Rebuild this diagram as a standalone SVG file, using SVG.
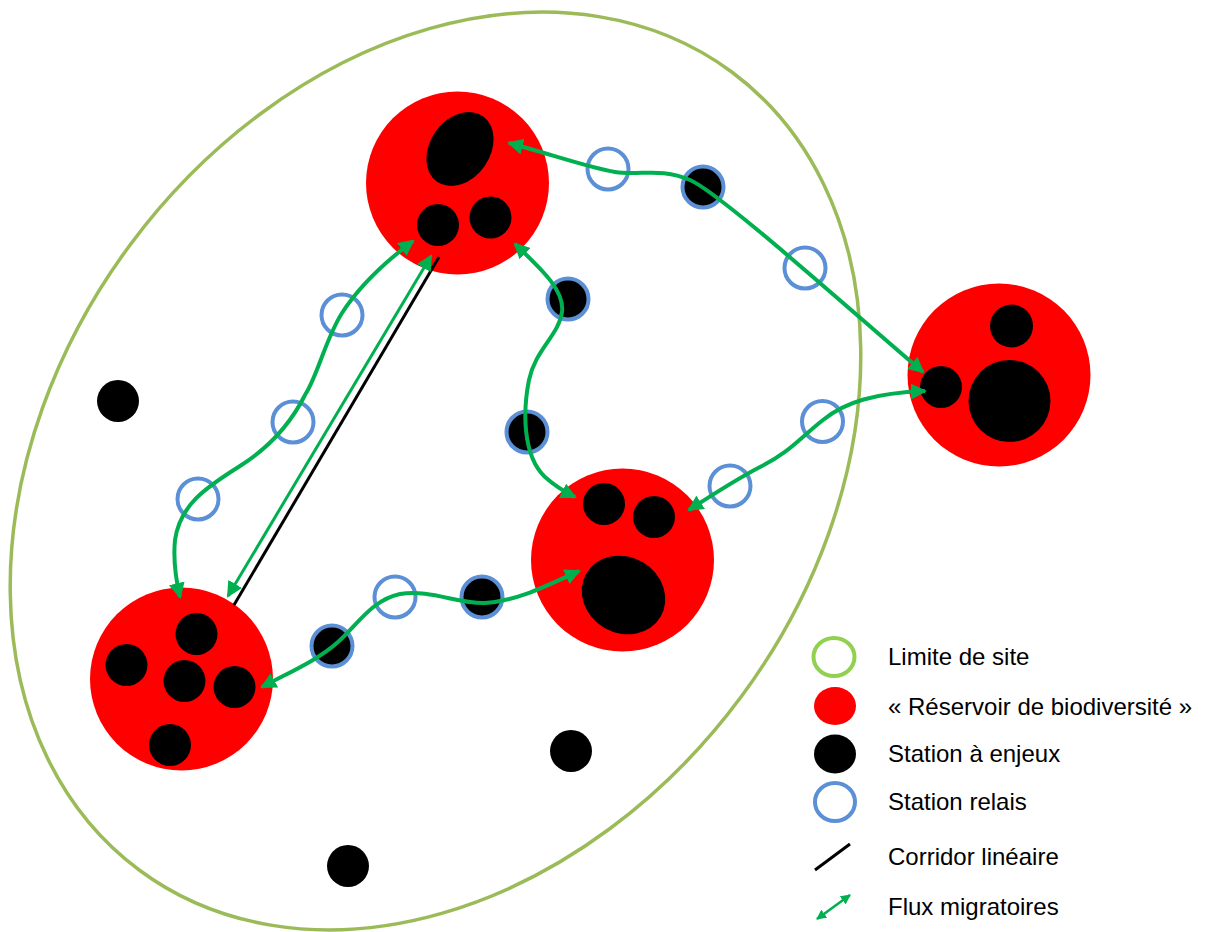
<svg xmlns="http://www.w3.org/2000/svg" width="1215" height="932" viewBox="0 0 1215 932">
<style>
.res{fill:#FF0000}
.blk{fill:#000}
.rel{fill:none;stroke:#5B8FD6;stroke-width:4}
.relb{fill:#000;stroke:#5B8FD6;stroke-width:4}
.flux{fill:none;stroke:#00B050;stroke-width:4;marker-start:url(#ah);marker-end:url(#ah)}
.lbl{font-family:"Liberation Sans",Arial,sans-serif;font-size:24px;fill:#000}
</style>
<defs>
<marker id="ah" viewBox="0 0 16 16" refX="14" refY="8" markerWidth="16" markerHeight="16" markerUnits="userSpaceOnUse" orient="auto-start-reverse">
<path d="M0,0 L16,8 L0,16 z" fill="#00B050"/>
</marker>
<marker id="ahs" viewBox="0 0 10 10" refX="9" refY="5" markerWidth="10" markerHeight="10" markerUnits="userSpaceOnUse" orient="auto-start-reverse">
<path d="M0,0 L10,5 L0,10 z" fill="#00B050"/>
</marker>
</defs>
<rect width="1215" height="932" fill="#fff"/>
<g id="site">
<ellipse cx="435.5" cy="471" rx="497" ry="380" transform="rotate(-53.4 435.5 471)" fill="none" stroke="#9BBB59" stroke-width="3.5"/>
</g>
<g id="reservoir-top">
<circle class="res" cx="457.5" cy="183" r="91.5"/>
<ellipse class="blk" cx="460" cy="149" rx="40" ry="30" transform="rotate(-55 460 149)"/>
<circle class="blk" cx="438" cy="225" r="21"/>
<circle class="blk" cx="490.5" cy="217.5" r="21"/>
</g>
<g id="reservoir-right">
<circle class="res" cx="999" cy="375" r="91.5"/>
<circle class="blk" cx="1011.5" cy="326" r="21.5"/>
<circle class="blk" cx="941" cy="387" r="21"/>
<circle class="blk" cx="1009.5" cy="401" r="41"/>
</g>
<g id="reservoir-bottomleft">
<circle class="res" cx="181.5" cy="679" r="91.5"/>
<circle class="blk" cx="196.5" cy="634" r="21"/>
<circle class="blk" cx="126.5" cy="665" r="21"/>
<circle class="blk" cx="184.5" cy="681" r="21"/>
<circle class="blk" cx="234.5" cy="687" r="21"/>
<circle class="blk" cx="170" cy="745" r="21"/>
</g>
<g id="reservoir-middle">
<circle class="res" cx="622.5" cy="560" r="91.5"/>
<circle class="blk" cx="604" cy="504" r="21"/>
<circle class="blk" cx="654" cy="517" r="21"/>
<ellipse class="blk" cx="623.5" cy="595" rx="43" ry="38" transform="rotate(30 623.5 595)"/>
</g>
<g id="stations-enjeux">
<circle class="blk" cx="118" cy="401" r="21"/>
<circle class="blk" cx="571" cy="751" r="21"/>
<circle class="blk" cx="348" cy="866" r="21"/>
</g>
<g id="stations-relais">
<circle class="rel" cx="608" cy="169" r="20.5"/>
<circle class="rel" cx="805" cy="268" r="20.5"/>
<circle class="rel" cx="342" cy="315" r="20.5"/>
<circle class="rel" cx="293" cy="422" r="20.5"/>
<circle class="rel" cx="198" cy="499" r="20.5"/>
<circle class="rel" cx="395" cy="597" r="20.5"/>
<circle class="rel" cx="730" cy="486" r="20.5"/>
<circle class="rel" cx="822.5" cy="421.5" r="20.5"/>
</g>
<g id="stations-relais-enjeux">
<circle class="relb" cx="703" cy="187" r="20.5"/>
<circle class="relb" cx="568" cy="299" r="20.5"/>
<circle class="relb" cx="527" cy="432" r="20.5"/>
<circle class="relb" cx="482" cy="597" r="20.5"/>
<circle class="relb" cx="332" cy="646" r="20.5"/>
</g>
<g id="connectors">
<line id="corridor" x1="439" y1="257" x2="234" y2="605" stroke="#000" stroke-width="3"/>
<path class="flux" style="stroke-width:3" d="M431,256 L228,596"/>
<path class="flux" d="M509,143 C550,154 590,168 615,172 C640,176 660,167 690,180 C720,193 850,310 923,372"/>
<path class="flux" d="M925,391 C875,393 845,402 823,420 C800,438 790,452 760,467 C735,480 712,495 689,510"/>
<path class="flux" d="M515,244 C540,268 565,290 562,312 C559,335 535,350 529,380 C523,410 522,455 545,477 C555,486 565,492 575,497"/>
<path class="flux" d="M413,241 C385,262 360,285 342,313 C325,340 318,375 305,395 C290,425 270,447 240,466 C205,488 180,505 175,540 C173,560 176,580 180,597"/>
<path class="flux" d="M262,687 C290,672 318,660 338,642 C358,624 372,600 400,594 C430,589 458,604 485,603 C518,601 548,585 579,571"/>
</g>
<g id="legend">
<g id="leg-site"><ellipse cx="834" cy="657" rx="20.5" ry="19" fill="none" stroke="#92D050" stroke-width="4"/><text class="lbl" x="888" y="665">Limite de site</text></g>
<g id="leg-res"><ellipse cx="835" cy="706" rx="21" ry="19" fill="#FF0000"/><text class="lbl" x="888" y="715">« Réservoir de biodiversité »</text></g>
<g id="leg-enjeux"><ellipse cx="835" cy="754" rx="21" ry="19.5" fill="#000"/><text class="lbl" x="888" y="762">Station à enjeux</text></g>
<g id="leg-relais"><ellipse cx="835" cy="802" rx="20" ry="19" fill="none" stroke="#5B8FD6" stroke-width="4"/><text class="lbl" x="888" y="810">Station relais</text></g>
<g id="leg-corridor"><line x1="815" y1="870" x2="850" y2="844" stroke="#000" stroke-width="3"/><text class="lbl" x="888" y="865">Corridor linéaire</text></g>
<g id="leg-flux"><line x1="817" y1="919" x2="850" y2="895" stroke="#00B050" stroke-width="2.5" marker-start="url(#ahs)" marker-end="url(#ahs)"/><text class="lbl" x="888" y="915">Flux migratoires</text></g>
</g>
</svg>
